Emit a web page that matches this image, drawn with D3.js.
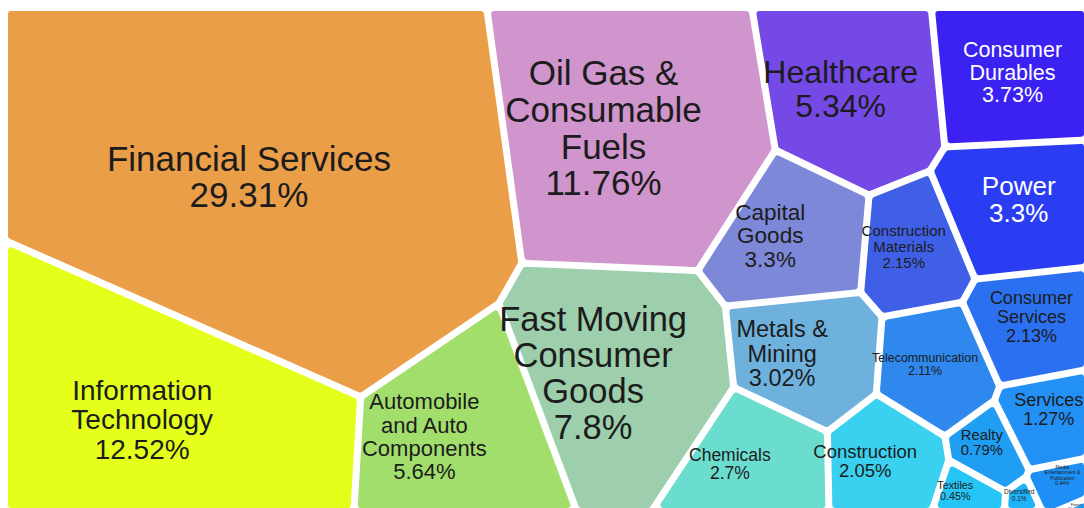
<!DOCTYPE html>
<html>
<head>
<meta charset="utf-8">
<script src="https://cdn.jsdelivr.net/npm/d3@7"></script>
<style>
  body { margin: 0; background: #fff; }
  svg { display: block; }
  text { font-family: "Liberation Sans", Arial, Helvetica, sans-serif; }
</style>
</head>
<body>
<script>
// sector weights (percent)
let sectors = ["Financial Services", "Information Technology", "Oil Gas & Consumable Fuels",
  "Fast Moving Consumer Goods", "Automobile and Auto Components", "Healthcare", "Consumer Durables",
  "Power", "Capital Goods", "Metals & Mining", "Chemicals", "Construction Materials",
  "Consumer Services", "Telecommunication", "Construction", "Services", "Realty", "Textiles",
  "Media Entertainment & Publication", "Diversified", "Forest Materials"]
let values = [29.31, 12.52, 11.76, 7.8, 5.64, 5.34, 3.73, 3.3, 3.3, 3.02, 2.7, 2.15, 2.13, 2.11, 2.05,
  1.27, 0.79, 0.45, 0.44, 0.1, 0.09]
// how each label is broken over lines
let labelLines = [["Financial Services"], ["Information", "Technology"], ["Oil Gas &", "Consumable", "Fuels"],
  ["Fast Moving", "Consumer", "Goods"], ["Automobile", "and Auto", "Components"], ["Healthcare"],
  ["Consumer", "Durables"], ["Power"], ["Capital", "Goods"], ["Metals &", "Mining"], ["Chemicals"],
  ["Construction", "Materials"], ["Consumer", "Services"], ["Telecommunication"], ["Construction"],
  ["Services"], ["Realty"], ["Textiles"], ["Media", "Entertainment &", "Publication"], ["Diversified"], ["Forest", "Materials"]]

// styling
let colors = ["#eb9e48", "#e3ff1a", "#cf95cc", "#9dcfac", "#a2de6b", "#7549e6", "#3b22f2", "#2a3df3",
  "#7e88d8", "#6eb1dc", "#6bddcf", "#3f60e6", "#2b70f0", "#2f88ee", "#3ad0ef", "#2290f5", "#209ef3",
  "#25c6f5", "#1e90f5", "#21b3f6", "#1f9df6"]
let fontSizes = [35, 28, 35, 34.5, 22, 32, 21.5, 26, 22.5, 23.5, 17.5, 15, 18, 12.4, 18.5, 18, 14.8, 10.8, 5, 6.5, 4]
let lightText = ["Consumer Durables", "Power"]
// starting sites for the voronoi layout
let seeds = [[229, 182], [127, 430], [578, 126], [566, 373], [390, 440], [828, 87], [1013, 70],
  [1020, 193], [750, 232], [757, 352], [707, 464], [895, 243], [1031, 310], [915, 361], [846, 461],
  [1050, 400], [976, 436], [943, 489], [1065, 466], [1017, 492], [1076, 510]]

let width = 1084
let height = 508
let box = { x0: 4.5, y0: 7.5, x1: 1087.5, y1: 511.5 }
let gap = 3.5
let corner = 3
let pull = 0.5   // how far a site follows its cell centroid each step

let clipHalf = (poly, a, b, c) => {
  let out = []
  for (let k = 0; k < poly.length; k++) {
    let p = poly[k], q = poly[(k + 1) % poly.length]
    let fp = a * p[0] + b * p[1] - c, fq = a * q[0] + b * q[1] - c
    if (fp <= 0) out.push(p)
    if ((fp <= 0) !== (fq <= 0)) {
      let t = fp / (fp - fq)
      out.push([p[0] + t * (q[0] - p[0]), p[1] + t * (q[1] - p[1])])
    }
  }
  return out
}

let rectPoly = [[box.x0, box.y0], [box.x1, box.y0], [box.x1, box.y1], [box.x0, box.y1]]

let powerCells = (sites, w) => sites.map((s, i) => {
  let poly = rectPoly
  for (let j = 0; j < sites.length && poly.length; j++) {
    if (i === j) continue
    let t = sites[j]
    let a = 2 * (t[0] - s[0]), b = 2 * (t[1] - s[1])
    let c = t[0] * t[0] + t[1] * t[1] - s[0] * s[0] - s[1] * s[1] - w[j] + w[i]
    poly = clipHalf(poly, a, b, c)
  }
  return poly
})

let total = (box.x1 - box.x0) * (box.y1 - box.y0)
let sum = d3.sum(values)
let target = values.map(v => v / sum * total)
let sites = seeds.map(p => p.slice())
let w = values.map(() => 100)

let fixOverweight = () => {
  let fixed = true, guard = 0
  while (fixed && guard++ < 50) {
    fixed = false
    for (let i = 0; i < sites.length; i++) {
      for (let j = i + 1; j < sites.length; j++) {
        let hi = w[i] > w[j] ? i : j, lo = hi === i ? j : i
        let d2 = (sites[i][0] - sites[j][0]) ** 2 + (sites[i][1] - sites[j][1]) ** 2
        if (d2 < w[hi] - w[lo]) {
          w[lo] += w[hi] - w[lo] - d2 + 1e-6
          fixed = true
        }
      }
    }
  }
}

for (let it = 0; it < 1000; it++) {
  let cells = powerCells(sites, w)
  let mitig = it < 300 ? 0.2 : 0.05
  cells.forEach((poly, i) => {
    let area = poly.length > 2 ? Math.abs(d3.polygonArea(poly)) : 0
    if (poly.length > 2) {
      let c = d3.polygonCentroid(poly)
      sites[i] = [seeds[i][0] + pull * (c[0] - seeds[i][0]), seeds[i][1] + pull * (c[1] - seeds[i][1])]
    }
    let ratio = area > 0 ? target[i] / area : 1 + mitig
    ratio = Math.max(1 - mitig, Math.min(1 + mitig, ratio))
    w[i] = Math.max(w[i] * ratio, 1e-6)
  })
  fixOverweight()
}
let cells = powerCells(sites, w)

let inset = (poly, d) => {
  let c = d3.polygonCentroid(poly)
  let out = poly
  for (let k = 0; k < poly.length && out.length; k++) {
    let p = poly[k], q = poly[(k + 1) % poly.length]
    let dx = q[0] - p[0], dy = q[1] - p[1], len = Math.hypot(dx, dy)
    if (len < 1e-9) continue
    let nx = -dy / len, ny = dx / len
    if (nx * (c[0] - p[0]) + ny * (c[1] - p[1]) < 0) { nx = -nx; ny = -ny }
    out = clipHalf(out, -nx, -ny, -(nx * p[0] + ny * p[1] + d))
  }
  return out
}

let svg = d3.select("body").append("svg")
  .attr("width", width)
  .attr("height", height)

let cellData = sectors.map((name, i) => {
  let poly = cells[i]
  let inner = poly.length > 2 ? inset(poly, gap + corner) : []
  let rounded = inner.length > 2 && Math.abs(d3.polygonArea(inner)) > 4
  return {
    name, value: values[i], color: colors[i], lines: labelLines[i], fs: fontSizes[i],
    shape: rounded ? inner : (poly.length > 2 ? inset(poly, gap) : []), rounded,
    centre: sites[i]
  }
})

svg.selectAll(".cell").data(cellData.filter(d => d.shape.length > 2))
  .enter().append("path")
  .attr("class", "cell")
  .attr("d", d => "M" + d.shape.map(p => p.join(",")).join("L") + "Z")
  .attr("fill", d => d.color)
  .attr("stroke", d => d.rounded ? d.color : "none")
  .attr("stroke-width", corner * 2)
  .attr("stroke-linejoin", "round")

let labels = svg.selectAll(".label").data(cellData)
  .enter().append("text")
  .attr("class", "label")
  .attr("text-anchor", "middle")
  .attr("font-size", d => d.fs)
  .attr("fill", d => lightText.includes(d.name) ? "#fff" : "#1c1c1c")

labels.each(function (d) {
  let lines = d.lines.concat([d.value + "%"])
  let lh = d.fs * 1.05
  let y0 = d.centre[1] - (lines.length - 1) * lh / 2 + d.fs * 0.35
  d3.select(this).selectAll("tspan").data(lines)
    .enter().append("tspan")
    .attr("x", d.centre[0])
    .attr("y", (l, k) => y0 + k * lh)
    .text(l => l)
})
</script>
</body>
</html>
